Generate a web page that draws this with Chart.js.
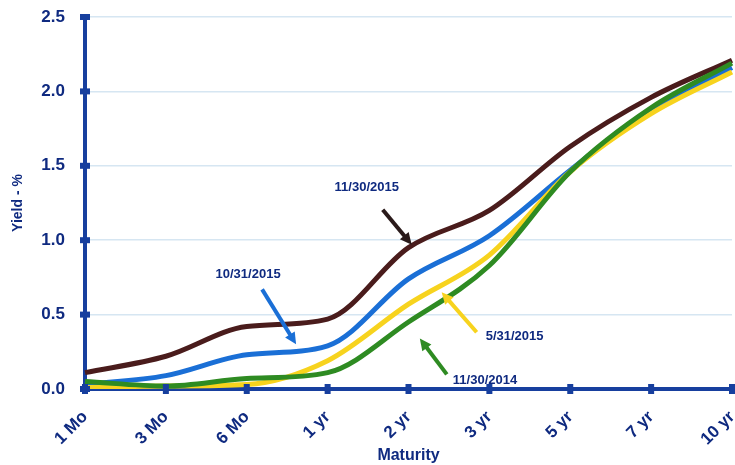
<!DOCTYPE html>
<html>
<head>
<meta charset="utf-8">
<script src="https://cdn.jsdelivr.net/npm/chart.js@4"></script>
<style>
    html, body { margin: 0; padding: 0; background: #ffffff; }
    #wrap { width: 735px; height: 465px; position: relative; }
</style>
</head>
<body>
<div id="wrap"><canvas id="yield-chart"></canvas></div>
<script>
const maturities = ['1 Mo', '3 Mo', '6 Mo', '1 yr', '2 yr', '3 yr', '5 yr', '7 yr', '10 yr'];
const yieldTicks = [0, 0.5, 1.0, 1.5, 2.0, 2.5];

const nov2015 = [0.11, 0.22, 0.42, 0.47, 0.95, 1.20, 1.63, 1.96, 2.21];
const oct2015 = [0.03, 0.09, 0.23, 0.29, 0.74, 1.03, 1.47, 1.88, 2.16];
const may2015 = [0.01, 0.02, 0.03, 0.19, 0.57, 0.90, 1.46, 1.85, 2.13];
const nov2014 = [0.05, 0.02, 0.07, 0.11, 0.45, 0.83, 1.46, 1.89, 2.19];

const navy = '#0f2a80';
const axisBlue = '#173f9e';
const font = '"Liberation Sans", Arial, sans-serif';

// callouts: arrow tip sits on the curve (category index, yield), tail and text offset in px
const callouts = [
    { text: '11/30/2015', color: '#2a1a1a', tip: [4.04, 0.97], tail: [-29, -35], label: [-16, -22], align: 'center' },
    { text: '10/31/2015', color: '#1a6fd6', tip: [2.61, 0.30], tail: [-34, -55], label: [-14, -15], align: 'center' },
    { text: '5/31/2015', color: '#f7d31e', tip: [4.41, 0.65], tail: [35, 40], label: [9, 4], align: 'left' },
    { text: '11/30/2014', color: '#2e8b22', tip: [4.14, 0.34], tail: [27, 36], label: [6, 6], align: 'left' }
];

const axisMarks = {
    id: 'axisMarks',
    afterDraw(chart) {
        const { ctx, chartArea, scales } = chart;
        ctx.save();
        ctx.fillStyle = axisBlue;
        scales.y.ticks.forEach(t => {
            const y = scales.y.getPixelForValue(t.value);
            ctx.fillRect(chartArea.left - 5, y - 3, 10, 6);
        });
        maturities.forEach((m, i) => {
            const x = scales.x.getPixelForValue(i);
            ctx.fillRect(x - 3, chartArea.bottom - 5, 6, 10);
        });
        ctx.restore();
    }
};

const calloutPlugin = {
    id: 'callouts',
    afterDatasetsDraw(chart) {
        const { ctx, scales } = chart;
        ctx.save();
        callouts.forEach(c => {
            const tx = scales.x.getPixelForValue(c.tip[0]);
            const ty = scales.y.getPixelForValue(c.tip[1]);
            const sx = tx + c.tail[0];
            const sy = ty + c.tail[1];
            const ang = Math.atan2(ty - sy, tx - sx);
            const head = 13;
            ctx.strokeStyle = c.color;
            ctx.fillStyle = c.color;
            ctx.lineWidth = 4;
            ctx.beginPath();
            ctx.moveTo(sx, sy);
            ctx.lineTo(tx - Math.cos(ang) * head * 0.8, ty - Math.sin(ang) * head * 0.8);
            ctx.stroke();
            ctx.beginPath();
            ctx.moveTo(tx, ty);
            ctx.lineTo(tx - head * Math.cos(ang - 0.45), ty - head * Math.sin(ang - 0.45));
            ctx.lineTo(tx - head * Math.cos(ang + 0.45), ty - head * Math.sin(ang + 0.45));
            ctx.closePath();
            ctx.fill();

            ctx.fillStyle = navy;
            ctx.font = 'bold 13px ' + font;
            ctx.textAlign = c.align;
            ctx.textBaseline = 'middle';
            ctx.fillText(c.text, sx + c.label[0], sy + c.label[1]);
        });
        ctx.restore();
    }
};

function series(label, data, color) {
    return {
        label: label,
        data: data,
        borderColor: color,
        backgroundColor: color,
        borderWidth: 5,
        pointRadius: 0,
        tension: 0.4,
        cubicInterpolationMode: 'monotone',
        fill: false
    };
}

new Chart(document.getElementById('yield-chart'), {
    type: 'line',
    data: {
        labels: maturities,
        datasets: [
            series('11/30/2014', nov2014, '#2e8b22'),
            series('5/31/2015', may2015, '#f7d31e'),
            series('10/31/2015', oct2015, '#1a6fd6'),
            series('11/30/2015', nov2015, '#4a1c1c')
        ]
    },
    options: {
        responsive: true,
        maintainAspectRatio: false,
        animation: false,
        layout: { padding: { top: 17, right: 3, left: 0, bottom: 0 } },
        plugins: {
            legend: { display: false },
            tooltip: { enabled: false }
        },
        scales: {
            x: {
                offset: false,
                grid: { display: false, drawTicks: false },
                border: { color: axisBlue, width: 4 },
                ticks: {
                    color: navy,
                    font: { family: font, size: 17, weight: 'bold' },
                    minRotation: 45,
                    maxRotation: 45,
                    padding: 18
                },
                title: {
                    display: true,
                    text: 'Maturity',
                    color: navy,
                    font: { family: font, size: 16, weight: 'bold' },
                    padding: { top: -8, bottom: 0 }
                },
                afterFit(scale) {
                    scale.height = 76;
                    scale.paddingLeft = 0;
                    scale.paddingRight = 0;
                }
            },
            y: {
                min: 0,
                max: 2.5,
                afterBuildTicks(scale) { scale.ticks = yieldTicks.map(v => ({ value: v })); },
                grid: { color: '#d6e6f2', lineWidth: 1.5, drawTicks: false },
                border: { color: axisBlue, width: 4 },
                ticks: {
                    color: navy,
                    font: { family: font, size: 17, weight: 'bold' },
                    padding: 20,
                    callback: v => v.toFixed(1)
                },
                title: {
                    display: true,
                    text: 'Yield - %',
                    color: navy,
                    font: { family: font, size: 14, weight: 'bold' },
                    padding: { top: 10, bottom: 4 }
                },
                afterFit(scale) {
                    scale.width = 85;
                    scale.paddingTop = 0;
                    scale.paddingBottom = 0;
                }
            }
        }
    },
    plugins: [axisMarks, calloutPlugin]
});
</script>
</body>
</html>
